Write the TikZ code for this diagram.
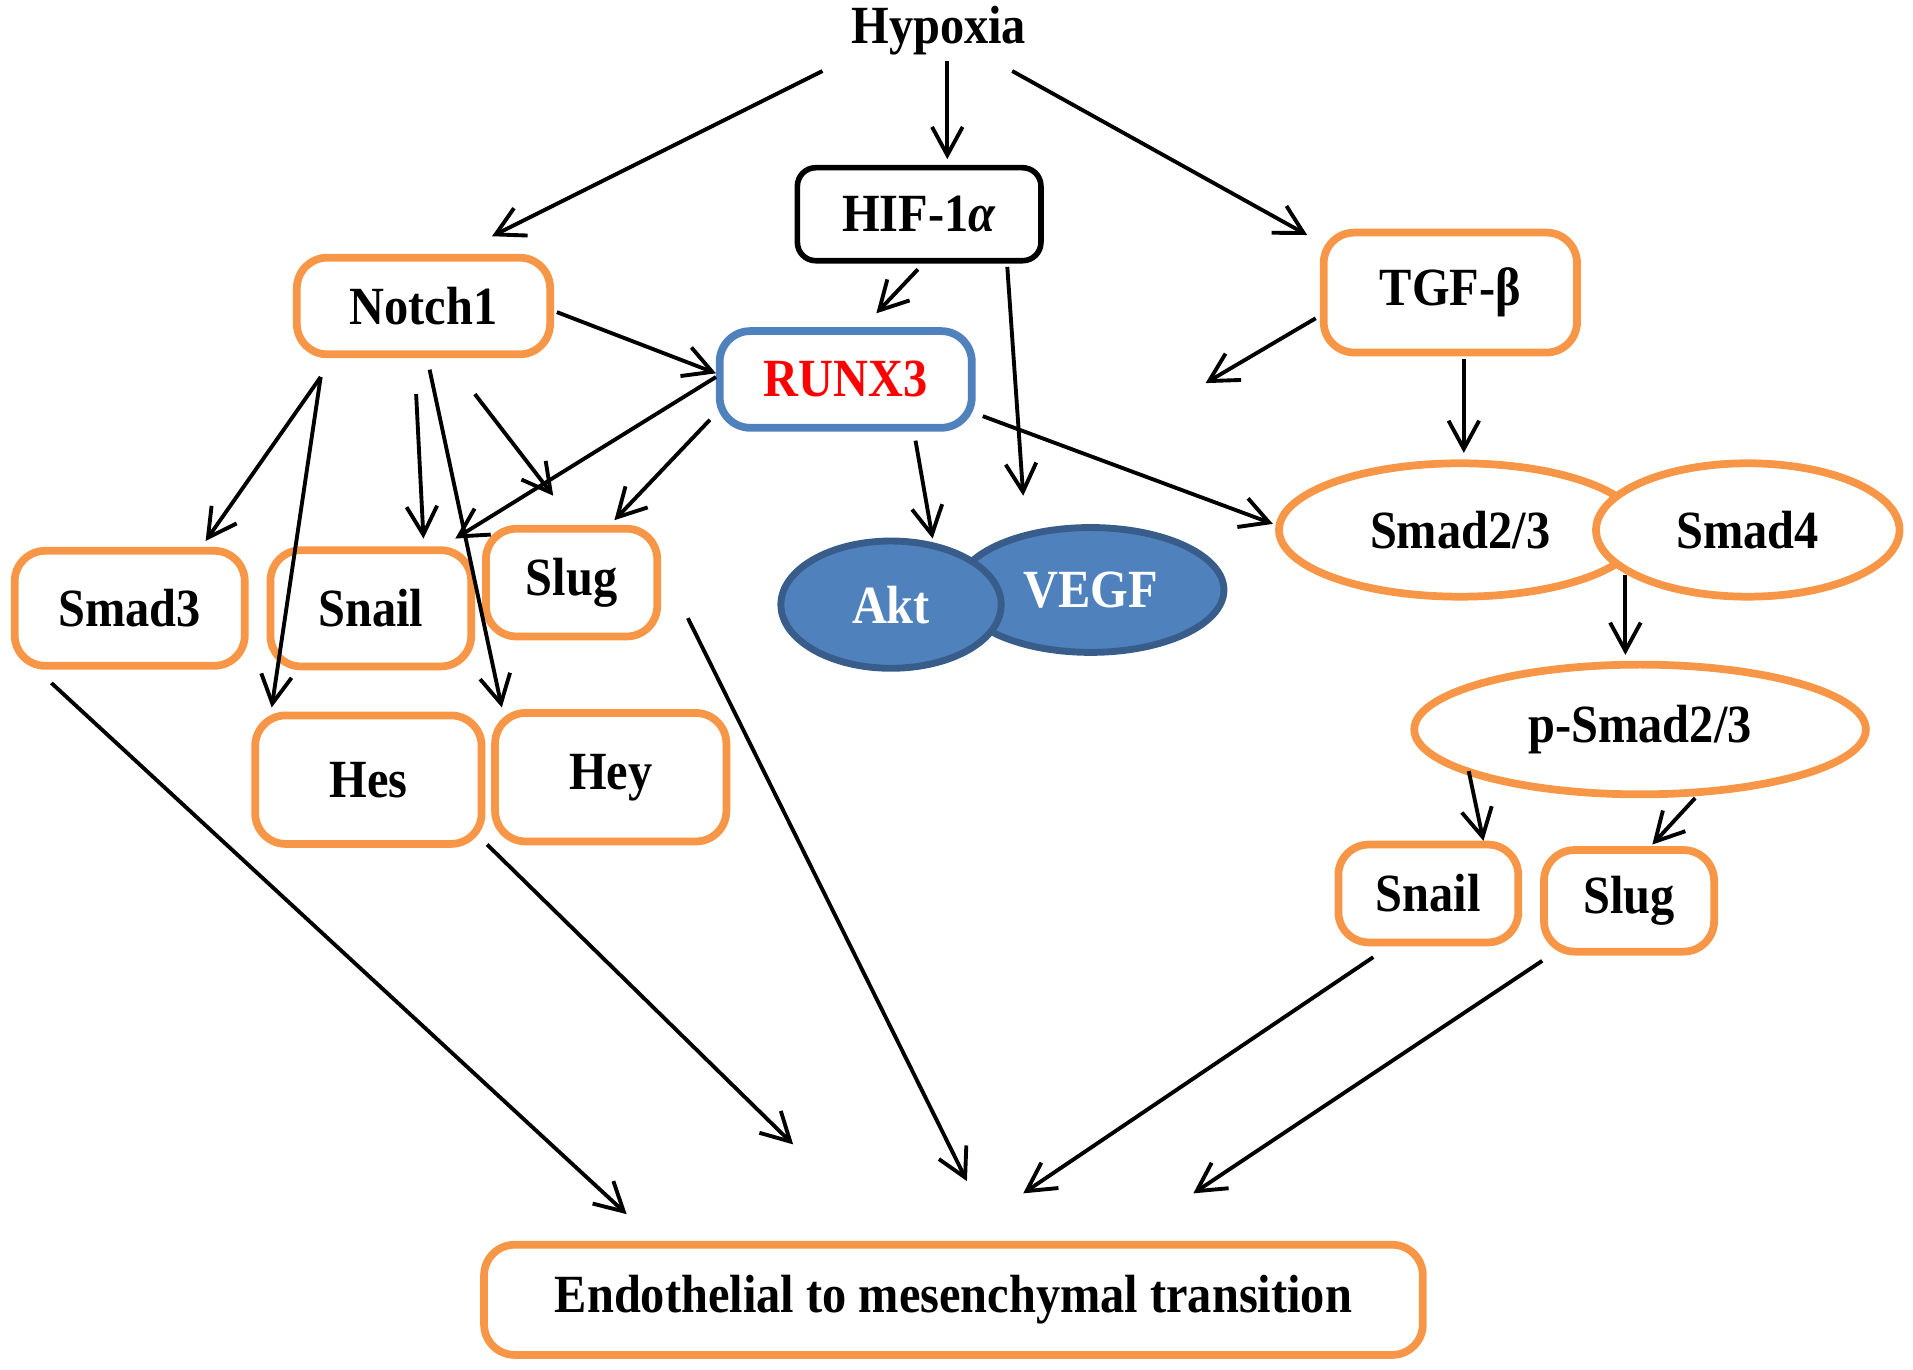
\documentclass[tikz,border=0pt]{standalone}
\usepackage{fontspec}
\setmainfont{Liberation Serif}[FakeStretch=0.9]
\usetikzlibrary{arrows.meta,shapes.geometric,calc}
\definecolor{boxorange}{HTML}{F79646}
\definecolor{runxblue}{HTML}{4F81BD}
\definecolor{aktfill}{HTML}{4F81BD}
\definecolor{aktline}{HTML}{385D8A}
\begin{document}
\begin{tikzpicture}[x=0.1mm,y=-0.1mm,every node/.style={font=\fontsize{12.5}{15}\selectfont\bfseries,inner sep=0pt},>={Straight Barb[length=2.3mm,width=2.5mm]},
  obox/.style={draw=boxorange,line width=1.8pt,rounded corners=2.5mm,fill=white},
  oell/.style={ellipse,draw=boxorange,line width=1.8pt,fill=white},
  bell/.style={ellipse,draw=aktline,line width=1.6pt,fill=aktfill,text=white},
  arr/.style={->,line width=0.9pt}]
\useasboundingbox (0,0) rectangle (1563,1119.3);
\node (hyp) at (767,25) {Hypoxia};
\node[draw,line width=1.3pt,rounded corners=1.5mm,fill=white,minimum width=19.9mm,minimum height=7.6mm] (hif) at (751,175) {HIF-1\textit{α}};
\node[obox,minimum width=20.7mm,minimum height=7.9mm] (notch) at (346,250) {Notch1};
\node[obox,draw=runxblue,text=red,minimum width=20.6mm,minimum height=7.9mm] (runx) at (691,310) {RUNX3};
\node[obox,minimum width=20.7mm,minimum height=9.8mm] (tgf) at (1185,239) {TGF-β};
\node[oell,minimum width=29.6mm,minimum height=10.9mm] (smadA) at (1193,433) {Smad2/3};
\node[oell,minimum width=24.8mm,minimum height=10.9mm] (smadB) at (1428,433) {Smad4};
\node[oell,minimum width=36.9mm,minimum height=10.6mm] (psmad) at (1340,596) {p-Smad2/3};
\node[bell,minimum width=21.8mm,minimum height=10.2mm] (vegf) at (891,482) {VEGF};
\node[bell,minimum width=18mm,minimum height=10.4mm] (akt) at (728,494) {Akt};
\node[obox,minimum width=18.8mm,minimum height=9.4mm] (smad3) at (106,497) {Smad3};
\node[obox,minimum width=16.4mm,minimum height=9.5mm] (snail) at (303,497) {Snail};
\node[obox,minimum width=14mm,minimum height=8.8mm] (slug) at (467,476) {Slug};
\node[obox,minimum width=18.9mm,minimum height=10.5mm] (hey) at (499,635) {Hey};
\node[obox,minimum width=18.5mm,minimum height=10.5mm] (hes) at (301,637) {Hes};
\node[obox,minimum width=14.7mm,minimum height=8mm] (snailR) at (1167,730) {Snail};
\node[obox,minimum width=13.9mm,minimum height=8.3mm] (slugR) at (1331,736) {Slug};
\node[obox,minimum width=76.7mm,minimum height=9mm] (emt) at (779,1062) {Endothelial to mesenchymal transition};
\coordinate (tgfend) at (985,313);
\coordinate (hesend) at (648,935);
% from hypoxia
\path[arr] ($(hyp)+(-95,33)$) edge ($(notch)+(56,-57)$);
\path[arr] ($(hyp)+(7,25)$) edge ($(hif)+(23,-45)$);
\path[arr] ($(hyp)+(60,33)$) edge ($(tgf)+(-117,-47)$);
\path[arr] ($(hif)+(-1,45)$) edge ($(runx)+(25,-54)$);
\path[arr] ($(hif)+(72,43)$) edge ($(vegf)+(-55,-77)$);
% runx3
\path[arr] ($(notch)+(109,5)$) edge ($(runx)+(-106,-5)$);
\path[arr] ($(runx)+(-106,-2)$) edge ($(snail)+(69,-57)$);
\path[arr] ($(runx)+(-111,33)$) edge ($(slug)+(35,-51)$);
\path[arr] ($(runx)+(57,50)$) edge ($(akt)+(34,-54)$);
\path[arr] ($(runx)+(112,30)$) edge ($(smadA)+(-153,-5)$);
% tgf-beta side
\path[arr] ($(tgf)+(-110,21)$) edge (tgfend);
\path[arr] ($(tgf)+(11,54)$) edge ($(smadA)+(3,-63)$);
\path[arr] ($(smadB)+(-100,37)$) edge ($(psmad)+(-12,-61)$);
\path[arr] ($(psmad)+(-140,34)$) edge ($(snailR)+(45,-43)$);
\path[arr] ($(psmad)+(45,56)$) edge ($(slugR)+(19,-46)$);
% notch1
\path[arr] ($(notch)+(-84,58)$) edge ($(smad3)+(62,-55)$);
\path[arr] ($(notch)+(-84,58)$) edge ($(hes)+(-79,-59)$);
\path[arr] ($(notch)+(-6,72)$) edge ($(snail)+(43,-57)$);
\path[arr] ($(notch)+(5,52)$) edge ($(hey)+(-89,-57)$);
\path[arr] ($(notch)+(42,72)$) edge ($(slug)+(-15,-71)$);
% to EndMT
\path[arr] ($(smad3)+(-64,61)$) edge ($(emt)+(-267,-70)$);
\path[arr] ($(hes)+(97,53)$) edge (hesend);
\path[arr] ($(slug)+(95,29)$) edge ($(emt)+(11,-97)$);
\path[arr] ($(snailR)+(-45,52)$) edge ($(emt)+(57,-87)$);
\path[arr] ($(slugR)+(-71,49)$) edge ($(emt)+(196,-87)$);
\end{tikzpicture}
\end{document}
